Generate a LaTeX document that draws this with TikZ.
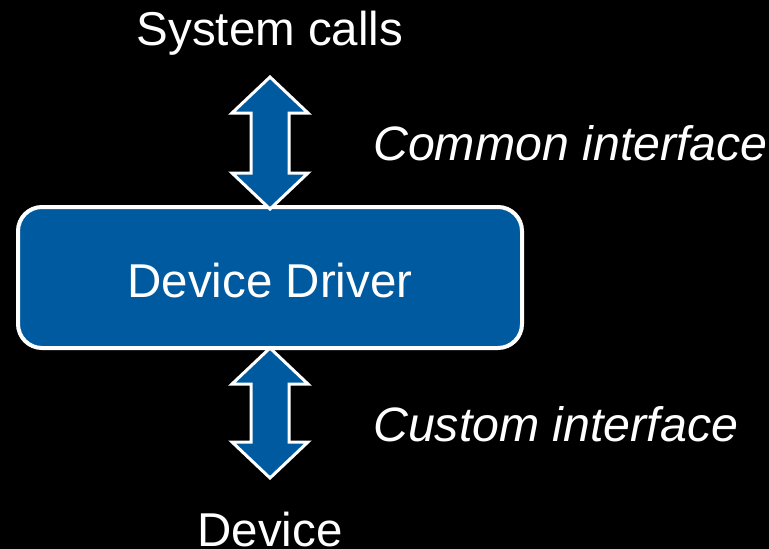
\documentclass[tikz,border=0pt]{standalone}
\usepackage{fontspec}
\setmainfont{Liberation Sans}
\definecolor{drvblue}{RGB}{0,90,160}
\tikzset{
  lbl/.style={anchor=base, inner sep=0pt, text=white, font=\fontsize{47.5}{56}\selectfont},
  itlbl/.style={lbl, anchor=base west, font=\fontsize{48.3}{56}\selectfont\itshape},
  biarrow/.style={fill=drvblue, draw=white, line width=3pt, line join=miter},
  drvbox/.style={fill=drvblue, draw=white, line width=4pt, rounded corners=24pt}
}
% two-headed block arrow between y-positions #2 (top tip) and #3 (bottom tip), centred at x=#1
\newcommand{\blockarrow}[3]{%
  \draw[biarrow] (#1,#2) -- (#1+38,#2+36) -- (#1+19,#2+36) -- (#1+19,#3-36)
    -- (#1+38,#3-36) -- (#1,#3) -- (#1-38,#3-36) -- (#1-19,#3-36)
    -- (#1-19,#2+36) -- (#1-38,#2+36) -- cycle;}
\begin{document}
\begin{tikzpicture}[x=1pt,y=-1pt]
  \fill[black] (0,0) rectangle (769,549);
  \useasboundingbox (0,0) rectangle (769,549);

  \draw[drvbox] (18,207) rectangle (522,348);
  \node[lbl] (drv) at (270,297) {Device Driver};

  \node[lbl] (sys) at (270,45) {System calls};
  \node[lbl] (dev) at (270,546) {Device};
  \node[itlbl] (common) at (373,160) {Common interface};
  \node[itlbl] (custom) at (373,441) {Custom interface};

  \blockarrow{270}{77}{209}
  \blockarrow{270}{348}{478}
\end{tikzpicture}
\end{document}
